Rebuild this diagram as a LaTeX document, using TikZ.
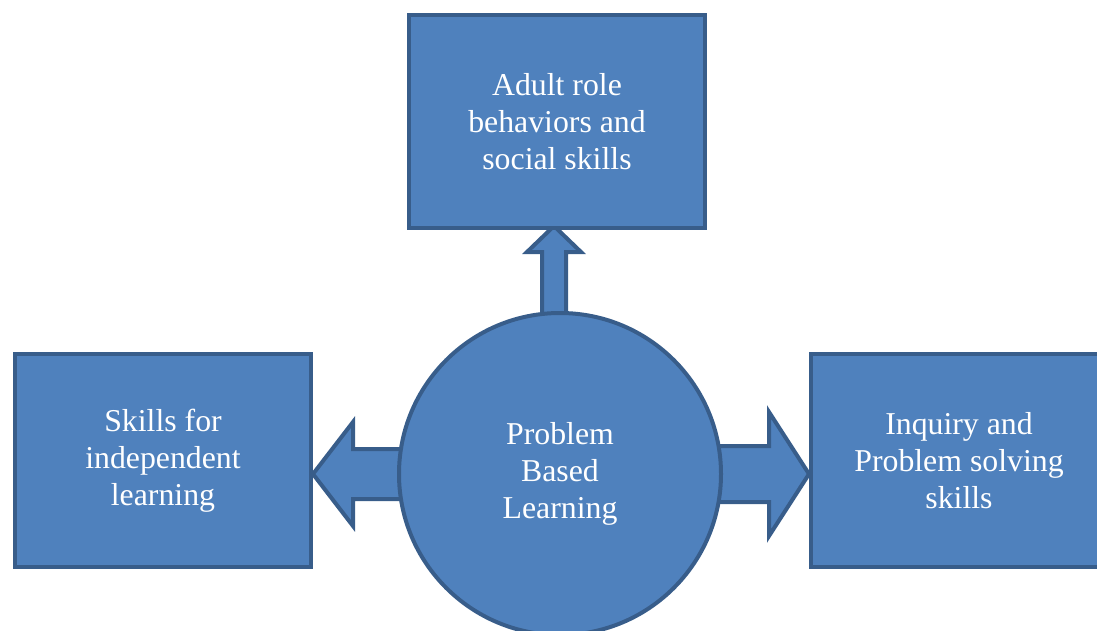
\documentclass[tikz,border=0pt]{standalone}
\usepackage{fontspec}
\setmainfont{Liberation Serif}
\usepackage{tikz}
\usetikzlibrary{calc,backgrounds}
\definecolor{boxfill}{HTML}{4F81BD}
\definecolor{boxline}{HTML}{385D8A}
\tikzset{
  skillbox/.style={draw=boxline, fill=boxfill, line width=4pt, minimum width=296pt,
    minimum height=213pt, inner sep=0pt, align=center, text=white,
    font=\fontsize{31.8}{37}\selectfont},
  pblcircle/.style={skillbox, circle, minimum size=322pt},
  blockarrow/.style={draw=boxline, fill=boxfill, line width=4pt, line join=miter}
}
\begin{document}
\begin{tikzpicture}[x=1pt,y=-1pt]
	%%%%% START %%%%%
	\clip (0,0) rectangle (1097,631);
	
	\node[skillbox] (adult) at (557,121.5) {Adult role\\behaviors and\\social skills};
	\node[skillbox] (indep) at (163,460.5) {Skills for\\independent\\learning};
	\node[skillbox] (inquiry) at (959,460.5) {Inquiry and\\Problem solving\\skills};
	\node[pblcircle] (pbl) at (560,474) {Problem\\Based\\Learning};
	
	\begin{scope}[on background layer]
		% up
		\draw[blockarrow] ($(adult.south)+(-3,-4)$) -- ++(27,26) -- ++(-15,0) -- ++(0,70)
			-- ++(-24,0) -- ++(0,-70) -- ++(-15,0) -- cycle;
		% left
		\draw[blockarrow] (indep.east |- pbl.center) -- ++(40,-52) -- ++(0,27) -- ++(60,0)
			-- ++(0,50) -- ++(-60,0) -- ++(0,27) -- cycle;
		% right
		\draw[blockarrow] (inquiry.west |- pbl.center) -- ++(-40,-62) -- ++(0,34) -- ++(-60,0)
			-- ++(0,56) -- ++(60,0) -- ++(0,34) -- cycle;
	\end{scope}
	%%%%% END %%%%%
\end{tikzpicture}
\end{document}
